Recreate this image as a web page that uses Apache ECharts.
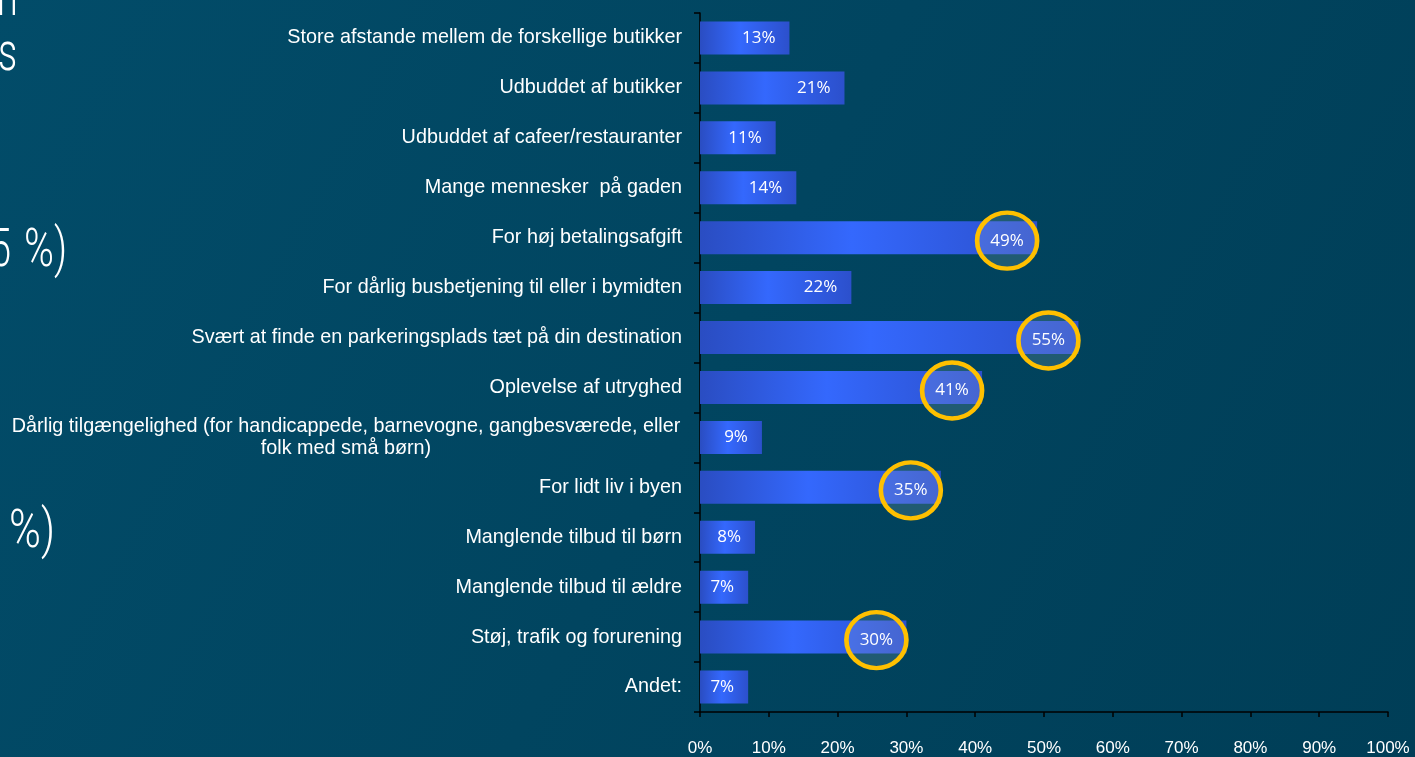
<!DOCTYPE html>
<html>
<head>
<meta charset="utf-8">
<script src="https://cdn.jsdelivr.net/npm/echarts@6/dist/echarts.min.js"></script>
<style>
  html, body { margin: 0; padding: 0; background: #01435e; }
  #main { width: 1415px; height: 757px; }
</style>
</head>
<body>
<div id="main"></div>
<script>
  // data
  const categories = [
    'Store afstande mellem de forskellige butikker',
    'Udbuddet af butikker',
    'Udbuddet af cafeer/restauranter',
    'Mange mennesker  på gaden',
    'For høj betalingsafgift',
    'For dårlig busbetjening til eller i bymidten',
    'Svært at finde en parkeringsplads tæt på din destination',
    'Oplevelse af utryghed',
    'Dårlig tilgængelighed (for handicappede, barnevogne, gangbesværede, eller\nfolk med små børn)',
    'For lidt liv i byen',
    'Manglende tilbud til børn',
    'Manglende tilbud til ældre',
    'Støj, trafik og forurening',
    'Andet:'
  ]
  const values = [13, 21, 11, 14, 49, 22, 55, 41, 9, 35, 8, 7, 30, 7]
  // bars that have a yellow ring around the label
  const circled = [
    'For høj betalingsafgift',
    'Svært at finde en parkeringsplads tæt på din destination',
    'Oplevelse af utryghed',
    'For lidt liv i byen',
    'Støj, trafik og forurening'
  ]
  const xMin = 0
  const xMax = 100
  const xStep = 10

  let barGradient = new echarts.graphic.LinearGradient(0, 0, 1, 0, [
    { offset: 0, color: '#2a4dc2' },
    { offset: 0.45, color: '#3468fd' },
    { offset: 1, color: '#2c50cc' }
  ])

  let barData = values.map((v, i) => {
    let item = { value: v }
    if (circled.indexOf(categories[i]) > -1) {
      item.label = { show: false }
    }
    return item
  })

  let ringData = []
  categories.forEach((c, i) => {
    if (circled.indexOf(c) > -1) ringData.push([values[i], c])
  })

  let labelFont = 'Liberation Sans, Arial, sans-serif'

  let chart = echarts.init(document.getElementById('main'))
  chart.setOption({
    backgroundColor: new echarts.graphic.LinearGradient(0, 0, 1, 1, [
      { offset: 0, color: '#024c69' },
      { offset: 1, color: '#003e57' }
    ]),
    animation: false,
    // pieces of the slide text cut off at the left edge
    graphic: [
      { type: 'text', x: -3, y: 1, scaleX: 0.7, style: { text: 'n', font: '300 54px Roboto', fill: '#ffffff', verticalAlign: 'middle' } },
      { type: 'text', x: -2, y: 56, scaleX: 0.7, style: { text: 's', font: '300 54px Roboto', fill: '#ffffff', verticalAlign: 'middle' } },
      { type: 'text', x: -10, y: 252, scaleX: 0.7, style: { text: '5', font: '300 54px Roboto', fill: '#ffffff', verticalAlign: 'middle' } },
      { type: 'text', x: 24, y: 252, scaleX: 0.75, style: { text: '%)', font: '300 54px Roboto', fill: '#ffffff', verticalAlign: 'middle' } },
      { type: 'text', x: 9, y: 533, scaleX: 0.8, style: { text: '%)', font: '300 54px Roboto', fill: '#ffffff', verticalAlign: 'middle' } }
    ],
    grid: {
      left: 700,
      right: 27,
      top: 13,
      bottom: 44,
      containLabel: false
    },
    xAxis: {
      type: 'value',
      min: xMin,
      max: xMax,
      interval: xStep,
      splitLine: { show: false },
      axisLine: { show: true, lineStyle: { color: '#000000', width: 1.5 } },
      axisTick: { show: true, length: 5, lineStyle: { color: '#000000', width: 1.5 } },
      axisLabel: {
        formatter: '{value}%',
        color: '#ffffff',
        fontFamily: labelFont,
        fontSize: 17,
        margin: 28
      }
    },
    yAxis: {
      type: 'category',
      inverse: true,
      data: categories,
      axisLine: { show: true, lineStyle: { color: '#000000', width: 1.5 } },
      axisTick: { show: true, length: 6, lineStyle: { color: '#000000', width: 1.5 } },
      axisLabel: {
        color: '#ffffff',
        fontFamily: labelFont,
        fontSize: 19.8,
        margin: 18,
        formatter: function (v) {
          return v.indexOf('\n') > -1 ? '{c|' + v + '}' : v
        },
        rich: {
          c: {
            width: 672,
            align: 'center',
            color: '#ffffff',
            fontFamily: labelFont,
            fontSize: 19.8,
            lineHeight: 22
          }
        }
      }
    },
    series: [
      {
        type: 'bar',
        data: barData,
        barWidth: 33,
        itemStyle: { color: barGradient },
        label: {
          show: true,
          position: 'insideRight',
          distance: 14,
          formatter: '{c}%',
          color: '#ffffff',
          fontFamily: 'Open Sans, sans-serif',
          fontSize: 17
        }
      },
      {
        type: 'scatter',
        data: ringData,
        symbol: 'circle',
        symbolSize: [60, 56],
        symbolOffset: [-30, 3],
        z: 3,
        itemStyle: {
          color: 'rgba(215, 225, 235, 0.15)',
          borderColor: '#ffc000',
          borderWidth: 4.5,
          opacity: 1
        },
        label: {
          show: true,
          position: 'inside',
          formatter: function (p) { return p.value[0] + '%' },
          color: '#ffffff',
          fontFamily: 'Open Sans, sans-serif',
          fontSize: 17
        }
      }
    ]
  })
</script>
</body>
</html>
